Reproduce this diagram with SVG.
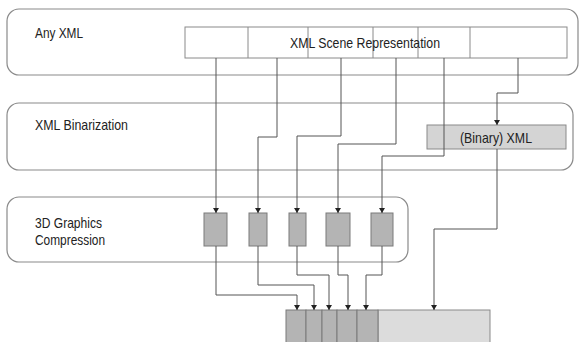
<svg xmlns="http://www.w3.org/2000/svg" width="580" height="342" viewBox="0 0 580 342">
<defs>
<style>
.panel{fill:#fff;stroke:#8a8a8a;stroke-width:1.2}
.box{fill:#fff;stroke:#8a8a8a;stroke-width:1}
.dark{fill:#b4b4b4;stroke:#7a7a7a;stroke-width:1}
.light{fill:#d4d4d4;stroke:#8a8a8a;stroke-width:1}
.pale{fill:#dcdcdc;stroke:#8a8a8a;stroke-width:1}
.lbl{font-family:"Liberation Sans",Arial,sans-serif;font-size:15px;fill:#222}
.con{fill:none;stroke:#555;stroke-width:1}
</style>
<marker id="ah" viewBox="0 0 5 6" markerWidth="5" markerHeight="6" refX="5" refY="3" orient="auto" markerUnits="userSpaceOnUse">
<path d="M0,0 L5,3 L0,6 Z" fill="#222"/>
</marker>
</defs>
<rect width="580" height="342" fill="#fff"/>

<g id="panel-anyxml">
<rect class="panel" x="7" y="9" width="571" height="66" rx="12"/>
<text class="lbl" x="35" y="37.5" textLength="48" lengthAdjust="spacingAndGlyphs">Any XML</text>
</g>

<g id="scene">
<rect class="box" x="185" y="27" width="382" height="31"/>
<path class="box" d="M248,27V58M308,27V58M373,27V58M418,27V58M470,27V58"/>
<text class="lbl" x="290" y="48" textLength="150" lengthAdjust="spacingAndGlyphs">XML Scene Representation</text>
</g>

<g id="panel-binarization">
<rect class="panel" x="7" y="103" width="566" height="67" rx="12"/>
<text class="lbl" x="35" y="129.5" textLength="93" lengthAdjust="spacingAndGlyphs">XML Binarization</text>
</g>

<g id="binary-xml">
<rect class="light" x="427" y="125" width="139" height="24"/>
<text class="lbl" x="460" y="142.5" textLength="72" lengthAdjust="spacingAndGlyphs">(Binary) XML</text>
</g>

<g id="panel-compression">
<rect class="panel" x="7" y="197" width="401" height="65" rx="12"/>
<text class="lbl" x="35" y="227.5" textLength="67" lengthAdjust="spacingAndGlyphs">3D Graphics</text>
<text class="lbl" x="35" y="245" textLength="70" lengthAdjust="spacingAndGlyphs">Compression</text>
</g>

<g id="coder1"><rect class="dark" x="204" y="213" width="23" height="33"/></g>
<g id="coder2"><rect class="dark" x="249" y="213" width="18" height="33"/></g>
<g id="coder3"><rect class="dark" x="289" y="213" width="17" height="33"/></g>
<g id="coder4"><rect class="dark" x="326" y="213" width="24" height="33"/></g>
<g id="coder5"><rect class="dark" x="371" y="213" width="22" height="33"/></g>

<g id="bitstream">
<rect class="pale" x="378" y="310" width="112" height="34"/>
<rect class="dark" x="286" y="310" width="20" height="34"/>
<rect class="dark" x="306" y="310" width="16" height="34"/>
<rect class="dark" x="322" y="310" width="15" height="34"/>
<rect class="dark" x="337" y="310" width="20" height="34"/>
<rect class="dark" x="357" y="310" width="21" height="34"/>
</g>

<g id="connectors">
<path class="con" marker-end="url(#ah)" d="M216,58V213"/>
<path class="con" marker-end="url(#ah)" d="M277,58V137H258V213"/>
<path class="con" marker-end="url(#ah)" d="M341,58V136H297V213"/>
<path class="con" marker-end="url(#ah)" d="M396,58V144H338V213"/>
<path class="con" marker-end="url(#ah)" d="M444,58V156H382V213"/>
<path class="con" marker-end="url(#ah)" d="M518,58V93H497V125"/>
<path class="con" marker-end="url(#ah)" d="M216,246V295H297V310"/>
<path class="con" marker-end="url(#ah)" d="M258,246V285H314V310"/>
<path class="con" marker-end="url(#ah)" d="M297,246V275H329V310"/>
<path class="con" marker-end="url(#ah)" d="M338,246V275H348V310"/>
<path class="con" marker-end="url(#ah)" d="M382,246V275H366V310"/>
<path class="con" marker-end="url(#ah)" d="M497,149V229H434V310"/>
</g>
</svg>
